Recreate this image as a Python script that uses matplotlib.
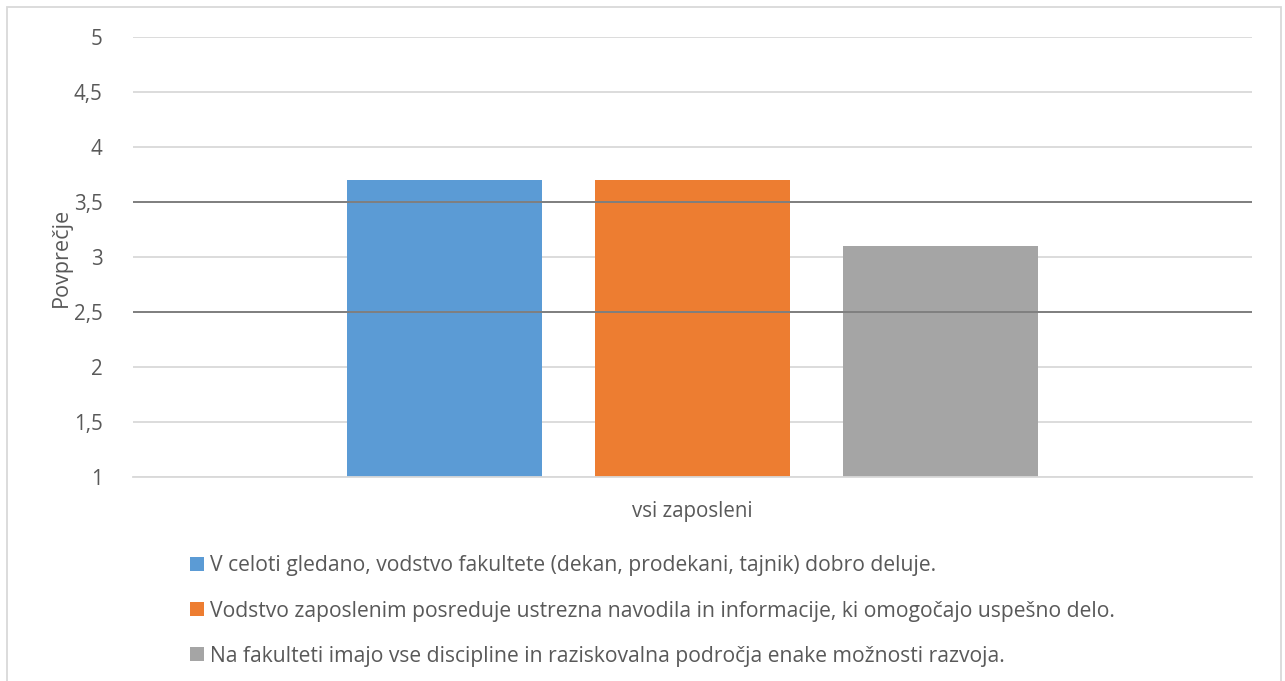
import matplotlib
matplotlib.use('Agg')
import matplotlib.pyplot as plt
from matplotlib.patches import Rectangle
from matplotlib.ticker import FuncFormatter

# podatki
category = 'vsi zaposleni'
labels = [
    'V celoti gledano, vodstvo fakultete (dekan, prodekani, tajnik) dobro deluje.',
    'Vodstvo zaposlenim posreduje ustrezna navodila in informacije, ki omogočajo uspešno delo.',
    'Na fakulteti imajo vse discipline in raziskovalna področja enake možnosti razvoja.',
]
values = [3.7, 3.7, 3.1]
colors = ['#5B9BD5', '#ED7D31', '#A5A5A5']
yticks = [1, 1.5, 2, 2.5, 3, 3.5, 4, 4.5, 5]
dark_lines = [2.5, 3.5]

plt.rcParams['font.family'] = ['Open Sans', 'DejaVu Sans']
txt = '#595959'

W, H = 1285, 681
fig = plt.figure(figsize=(W / 100, H / 100), dpi=100)

# plot area in pixels: x 133..1252, y 37..477
ax = fig.add_axes([133 / W, 1 - 477 / H, (1252 - 133) / W, (477 - 37) / H])

offset = 0.2216
width = 0.175
bars = []
for i, (v, c) in enumerate(zip(values, colors)):
    b = ax.bar((i - 1) * offset, v - 1, width=width, bottom=1, color=c, zorder=2)
    bars.append(b)

ax.set_xlim(-0.5, 0.5)
ax.set_ylim(1, 5)
ax.set_yticks(yticks)
ax.yaxis.set_major_formatter(FuncFormatter(lambda v, p: ('%g' % v).replace('.', ',')))
ax.set_xticks([0])
ax.set_xticklabels([category])
ax.tick_params(axis='both', length=0, labelsize=14.8, colors=txt)
ax.tick_params(axis='y', pad=22)
ax.tick_params(axis='x', pad=17)
ax.grid(axis='y', color='#D9D9D9', linewidth=1.3, zorder=0)
for s in ['top', 'right', 'left']:
    ax.spines[s].set_visible(False)
ax.spines['bottom'].set_color('#D9D9D9')
ax.spines['bottom'].set_linewidth(1.3)

for y in dark_lines:
    ax.axhline(y, color='#7F7F7F', linewidth=1.4, zorder=3)

ax.set_ylabel('Povprečje', fontsize=15.6, color=txt, labelpad=1)

fig.legend([b[0] for b in bars], labels, loc='upper left',
           bbox_to_anchor=(182 / W, 1 - 547 / H), frameon=False,
           fontsize=15.2, labelcolor=txt, handlelength=0.65, handleheight=0.65,
           handletextpad=0.28, labelspacing=1.14, borderaxespad=0)

# chart frame
fig.patches.append(Rectangle((7 / W, -0.02), 1274 / W, 1.02 - 7 / H,
                             transform=fig.transFigure, fill=False,
                             edgecolor='#D9D9D9', linewidth=1.3))

fig.savefig('out.png', dpi=100)
